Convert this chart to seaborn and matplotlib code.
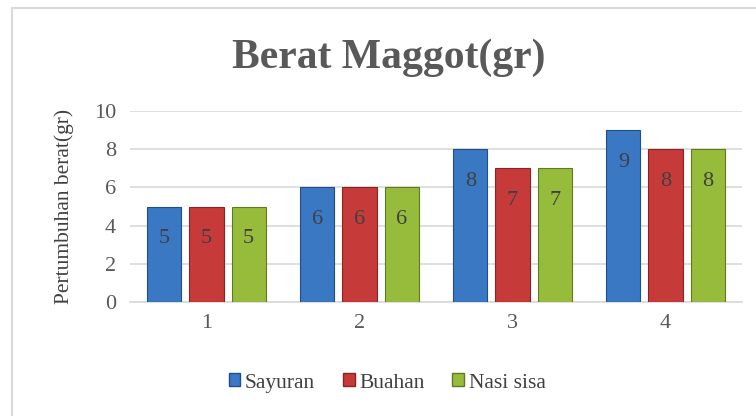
import matplotlib
matplotlib.use("Agg")
import matplotlib.pyplot as plt
import seaborn as sns
import pandas as pd
from matplotlib.patches import Rectangle

categories = ["1", "2", "3", "4"]
series_names = ["Sayuran", "Buahan", "Nasi sisa"]
sayuran = [5, 6, 8, 9]
buahan = [5, 6, 7, 8]
nasi_sisa = [5, 6, 7, 8]
yticks = [0, 2, 4, 6, 8, 10]

colors = ["#3A78C4", "#C63A3A", "#97BC3C"]
edges = ["#1F4F8A", "#8A2323", "#5E7A20"]

df = pd.DataFrame({
    "Kategori": categories * 3,
    "Seri": [s for s in series_names for _ in categories],
    "Nilai": sayuran + buahan + nasi_sisa,
})

sns.set_theme(style="white")
plt.rcParams["font.family"] = ["Liberation Serif", "DejaVu Serif"]

fig = plt.figure(figsize=(7.56, 4.16), dpi=100)
ax = fig.add_axes([130 / 756, 114 / 416, 612 / 756, 191 / 416])

sns.barplot(data=df, x="Kategori", y="Nilai", hue="Seri", order=categories,
            hue_order=series_names, palette=colors, width=0.825, gap=0.19,
            saturation=1, ax=ax, legend=False, zorder=3)

for container, ec in zip(ax.containers, edges):
    for bar in container:
        bar.set_edgecolor(ec)
        bar.set_linewidth(0.8)
    ax.bar_label(container, labels=[f"{v:g}" for v in container.datavalues],
                 label_type="edge", padding=-30, fontsize=16, color="#404040")

ax.set_ylim(0, 10)
ax.set_yticks(yticks)
ax.set_xlim(-0.5, 3.5)
ax.yaxis.grid(True, color="#D9D9D9", linewidth=1.2, zorder=0)
ax.set_axisbelow(True)
for s in ["top", "right", "left"]:
    ax.spines[s].set_visible(False)
ax.spines["bottom"].set_color("#D9D9D9")
ax.spines["bottom"].set_linewidth(1.2)
ax.tick_params(axis="y", length=0, labelsize=16, labelcolor="#595959", pad=10)
ax.tick_params(axis="x", length=0, labelsize=16, labelcolor="#595959", pad=9)
ax.set_xlabel("")
ax.set_ylabel("Pertumbuhan berat(gr)", fontsize=15.5, color="#404040", labelpad=14)

fig.text(389 / 756, 1 - 58 / 416, "Berat Maggot(gr)", ha="center", va="center",
         fontsize=30, fontweight="bold", color="#595959")

# legend
handles = [Rectangle((0, 0), 1, 1, facecolor=c, edgecolor=e) for c, e in zip(colors, edges)]
fig.legend(handles, series_names, loc="center", bbox_to_anchor=(387 / 756, 1 - 383 / 416),
           ncol=3, frameon=False, fontsize=15.5, labelcolor="#404040",
           handlelength=0.55, handleheight=0.55, handletextpad=0.2, columnspacing=1.3)

fig.patches.append(Rectangle((12 / 756, -10 / 416), 760 / 756, 418 / 416,
                             transform=fig.transFigure, fill=False,
                             edgecolor="#D9D9D9", linewidth=1.5))

fig.savefig("out.png", dpi=100)
